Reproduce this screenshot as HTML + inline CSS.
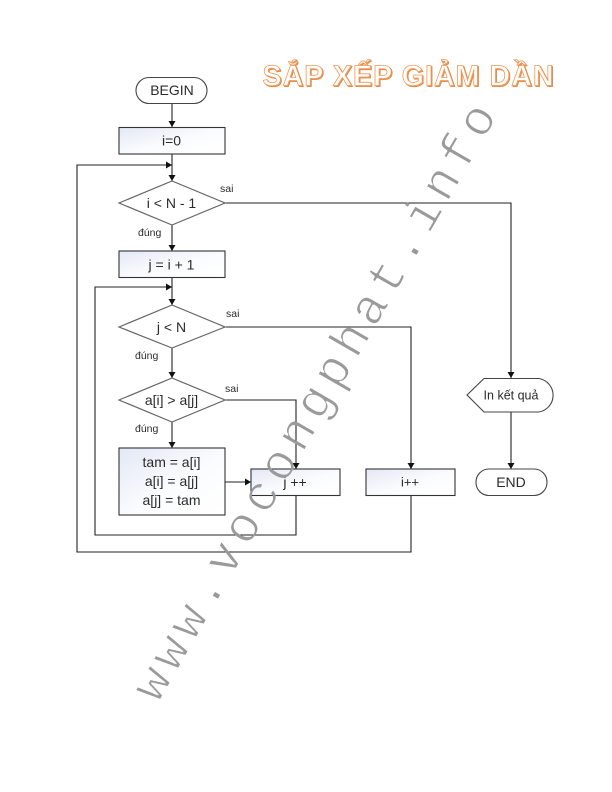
<!DOCTYPE html>
<html>
<head>
<meta charset="utf-8">
<style>
html,body{margin:0;padding:0;background:#fff}
svg{display:block}
text{font-family:"Liberation Sans","DejaVu Sans",sans-serif;fill:#2b2b2b}
.c{text-anchor:middle;font-size:14px}
.s{font-size:10.500px}
.l{fill:none;stroke:#222;stroke-width:1.1}
.b{stroke:#333;stroke-width:1.1}
.o{fill:#fff;stroke:#444;stroke-width:1.1}
.d{fill:#fff;stroke:#666;stroke-width:1.2}
</style>
</head>
<body>
<svg width="612" height="792" viewBox="0 0 612 792" xmlns="http://www.w3.org/2000/svg">
<defs>
<linearGradient id="g" x1="0" y1="0" x2="1" y2="1">
<stop offset="0" stop-color="#e3e8f5"/>
<stop offset="0.55" stop-color="#fbfcfe"/>
<stop offset="1" stop-color="#fff"/>
</linearGradient>
<marker id="a" markerWidth="8" markerHeight="8" refX="6" refY="3.500" orient="auto" markerUnits="userSpaceOnUse">
<path d="M0 0L6 3.500L0 7Z" fill="#111"/>
</marker>
<filter id="thin" x="-5%" y="-20%" width="110%" height="140%">
<feMorphology operator="erode" radius="0.7"/>
</filter>
</defs>

<!-- connectors -->
<path class="l" d="M172 103V127" marker-end="url(#a)"/>
<path class="l" d="M172 154V181" marker-end="url(#a)"/>
<path class="l" d="M172 225V251" marker-end="url(#a)"/>
<path class="l" d="M172 277V305" marker-end="url(#a)"/>
<path class="l" d="M172 348V378" marker-end="url(#a)"/>
<path class="l" d="M172 422V448" marker-end="url(#a)"/>
<path class="l" d="M411 495V552H77V165H172" marker-end="url(#a)"/>
<path class="l" d="M296 495V535H95V287H172" marker-end="url(#a)"/>
<path class="l" d="M225 203H511V378" marker-end="url(#a)"/>
<path class="l" d="M225 327H411V469" marker-end="url(#a)"/>
<path class="l" d="M225 400H296V469" marker-end="url(#a)"/>
<path class="l" d="M225 482H251" marker-end="url(#a)"/>
<path class="l" d="M511 412V469" marker-end="url(#a)"/>

<!-- nodes -->
<rect class="o" x="136" y="77.500" width="71" height="26" rx="13"/>
<rect class="b" x="119" y="127.500" width="106" height="26.500" fill="url(#g)"/>
<polygon class="d" points="119,203 172,181 225,203 172,225"/>
<rect class="b" x="119" y="251" width="106" height="26.500" fill="url(#g)"/>
<polygon class="d" points="119,327 172,305 225,327 172,348"/>
<polygon class="d" points="119,400 172,378 225,400 172,422"/>
<rect class="b" x="119" y="448" width="106" height="67" fill="url(#g)"/>
<rect class="b" x="251" y="469" width="89" height="26.500" fill="url(#g)"/>
<rect class="b" x="366" y="469" width="89" height="26.500" fill="url(#g)"/>
<path class="o" d="M467 395L484 378.500H539A17 17 0 0 1 539 412H484Z"/>
<rect class="o" x="476" y="469" width="71" height="26.500" rx="13"/>

<!-- labels -->
<text class="c" x="172" y="95">BEGIN</text>
<text class="c" x="171.500" y="145.500">i=0</text>
<text class="c" x="171.500" y="208">i &lt; N - 1</text>
<text class="c" x="171.500" y="269.500">j = i + 1</text>
<text class="c" x="171.500" y="332">j &lt; N</text>
<text class="c" x="171.500" y="405">a[i] &gt; a[j]</text>
<text class="c" x="171.500" y="467">tam = a[i]</text>
<text class="c" x="171.500" y="486">a[i] = a[j]</text>
<text class="c" x="171.500" y="505">a[j] = tam</text>
<text class="c" x="295" y="487">j ++</text>
<text class="c" x="410" y="486.500" style="font-size:13px">i++</text>
<text class="c" x="511" y="399.500" style="font-size:12.500px">In kết quả</text>
<text class="c" x="511" y="487">END</text>
<text class="s" x="220" y="192">sai</text>
<text class="s" x="226" y="317">sai</text>
<text class="s" x="225" y="392">sai</text>
<text class="s" x="138" y="236">đúng</text>
<text class="s" x="135" y="359">đúng</text>
<text class="s" x="135" y="432">đúng</text>

<!-- title -->
<text x="263.500" y="86.500" textLength="291" lengthAdjust="spacing" style="font-size:28.500px;font-weight:bold;fill:#ee9a60;stroke:#e8802f;stroke-width:0.8">SẮP XẾP GIẢM DẦN</text>
<text x="262.500" y="85.500" textLength="291" lengthAdjust="spacing" style="font-size:28.500px;font-weight:bold;fill:#fff;stroke:#ef9a5e;stroke-width:0.8">SẮP XẾP GIẢM DẦN</text>

<!-- watermark -->
<g filter="url(#thin)">
<text transform="translate(158 704) rotate(-60)" x="0" y="0" textLength="680" lengthAdjust="spacing" style="font-family:'Liberation Mono',monospace;font-size:50px;fill:#9a9a9a">www.vocongphat.info</text>
</g>
</svg>
</body>
</html>
